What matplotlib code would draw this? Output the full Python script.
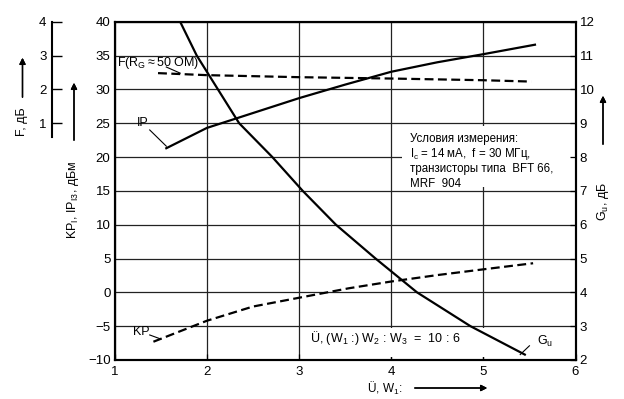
import matplotlib
matplotlib.use('Agg')
import matplotlib.pyplot as plt
from matplotlib.patches import Rectangle

plt.rcParams['font.family'] = ['Liberation Sans Narrow', 'Liberation Sans', 'DejaVu Sans']
plt.rcParams['mathtext.fontset'] = 'custom'
plt.rcParams['mathtext.rm'] = 'Liberation Sans'
plt.rcParams['mathtext.it'] = 'Liberation Sans'

# --- data ---
x_ip = [1.56, 2.0, 2.5, 3.0, 3.5, 4.0, 4.5, 5.0, 5.56]
ip = [21.3, 24.3, 26.5, 28.7, 30.7, 32.6, 34.0, 35.2, 36.6]          # dBm

x_kp = [1.42, 2.0, 2.5, 3.0, 3.54, 4.0, 4.5, 5.0, 5.54]
kp = [-7.3, -4.2, -2.1, -0.8, 0.6, 1.6, 2.55, 3.4, 4.3]               # dB

x_f = [1.47, 2.0, 3.0, 4.0, 5.0, 5.52]
f_db = [2.48, 2.42, 2.36, 2.32, 2.27, 2.23]                          # dB

x_gu = [1.71, 1.89, 2.12, 2.35, 2.71, 3.04, 3.40, 3.83, 4.28, 4.86, 5.45]
gu = [12, 11, 10, 9, 8, 7, 6, 5, 4, 3, 2.16]                          # dB

main_ticks = list(range(-10, 41, 5))
gu_ticks = list(range(2, 13))
f_ticks = [1, 2, 3, 4]
x_ticks = [1, 2, 3, 4, 5, 6]

W, H = 624, 399
fig = plt.figure(figsize=(W / 100, H / 100), dpi=100)


def fx(px):
    return px / W


def fy(py):
    return 1 - py / H


L, R, T, B = 114.7, 575.5, 21.7, 360.0
pos = [fx(L), fy(B), fx(R) - fx(L), fy(T) - fy(B)]
ax = fig.add_axes(pos)
ax.set_xlim(1, 6)
ax.set_ylim(-10, 40)
ax.set_xticks(x_ticks)
ax.set_yticks(main_ticks)
ax.set_yticklabels([str(t).replace('-', '\u2212') for t in main_ticks])
ax.grid(True, color='#222222', lw=0.9)
ax.set_axisbelow(True)
ax.tick_params(axis='y', length=0, pad=3, labelsize=9.5)
ax.tick_params(axis='x', direction='in', length=4, pad=4, labelsize=9.5, width=0.9)
for s in ax.spines.values():
    s.set_linewidth(1.5)

# white boxes behind texts hide the grid
ax.add_patch(Rectangle((4.12, 15.5), 1.88, 9.1, facecolor='white', edgecolor='none', zorder=1.5))
ax.add_patch(Rectangle((3.04, -9.6), 2.3, 4.3, facecolor='white', edgecolor='none', zorder=1.5))

lw = 1.6
ax.plot(x_ip, ip, color='black', lw=lw, zorder=3)
ax.plot(x_kp, kp, color='black', lw=lw, dashes=(4, 2), zorder=3)

axg = ax.twinx()
axg.set_ylim(2, 12)
axg.set_yticks(gu_ticks)
axg.tick_params(axis='y', direction='in', length=4, pad=3, labelsize=9.5, width=0.9)
for s in axg.spines.values():
    s.set_linewidth(1.5)
axg.plot(x_gu, gu, color='black', lw=lw, zorder=3)

# F scale: 1 dB per 5 units of the main scale, F = 4 at the top
axf = ax.twinx()
axf.set_ylim(-6, 4)
axf.axis('off')
axf.plot(x_f, f_db, color='black', lw=lw, dashes=(4, 2), zorder=3)

# separate F scale on the far left
fax = fig.add_axes([fx(52), pos[1], 0.0001, pos[3]])
fax.set_ylim(-6, 4)
fax.set_xticks([])
fax.set_yticks(f_ticks)
for k in ['top', 'right', 'bottom']:
    fax.spines[k].set_visible(False)
fax.spines['left'].set_linewidth(1.5)
fax.spines['left'].set_bounds(0.6, 4)
fax.tick_params(axis='y', direction='in', length=7, width=1.0, pad=4, labelsize=9.5)
fax.patch.set_visible(False)

# curve labels
kw = dict(fontsize=9, color='black')
ax.text(1.03, 33.4, r'F(R$_\mathrm{G}$$\approx$50 OM)', **kw)
ax.plot([1.56, 1.71], [33.3, 32.4], color='black', lw=0.8)
ax.text(1.24, 24.6, 'IP', **kw)
ax.plot([1.38, 1.56], [24.0, 21.6], color='black', lw=0.8)
ax.text(1.2, -6.3, 'KP', **kw)
ax.plot([1.38, 1.5], [-6.3, -6.9], color='black', lw=0.8)
ax.text(5.58, -7.7, r'G$_\mathrm{u}$', **kw)
ax.plot([5.5, 5.4], [-7.9, -9.2], color='black', lw=0.8)

ax.text(3.12, -7.3, r'Ü, (W$_1$ :) W$_2$ : W$_3$  =  10 : 6', fontsize=9)

cond = ['Условия измерения:',
        r'I$_\mathrm{c}$ = 14 мА,  f = 30 МГц,',
        'транзисторы типа  BFT 66,',
        'MRF  904']
for i, line in enumerate(cond):
    ax.text(4.2, 22.7 - i * 2.25, line, fontsize=8.3, va='center')

# axis titles with arrows
fig.text(fx(22), fy(122), 'F, дБ', rotation=90, ha='center', va='center', fontsize=9)
fig.text(fx(73), fy(200), r'KP$_\mathrm{I}$, IP$_\mathrm{I3}$, дБм', rotation=90,
         ha='center', va='center', fontsize=9)
fig.text(fx(603), fy(202), r'G$_\mathrm{u}$, дБ', rotation=90, ha='center', va='center', fontsize=9)
fig.text(fx(385), fy(388), r'Ü, W$_1$:', ha='center', va='center', fontsize=8.5)

ap = dict(arrowstyle='-|>', lw=1.0, color='black', mutation_scale=9)
fig.add_artist(plt.annotate('', xy=(fx(22.5), fy(55)), xytext=(fx(22.5), fy(100)),
                            xycoords='figure fraction', arrowprops=ap))
fig.add_artist(plt.annotate('', xy=(fx(74), fy(80)), xytext=(fx(74), fy(143)),
                            xycoords='figure fraction', arrowprops=ap))
fig.add_artist(plt.annotate('', xy=(fx(603), fy(93)), xytext=(fx(603), fy(147)),
                            xycoords='figure fraction', arrowprops=ap))
fig.add_artist(plt.annotate('', xy=(fx(490), fy(388)), xytext=(fx(412), fy(388)),
                            xycoords='figure fraction', arrowprops=ap))

fig.savefig('out.png', dpi=100)
